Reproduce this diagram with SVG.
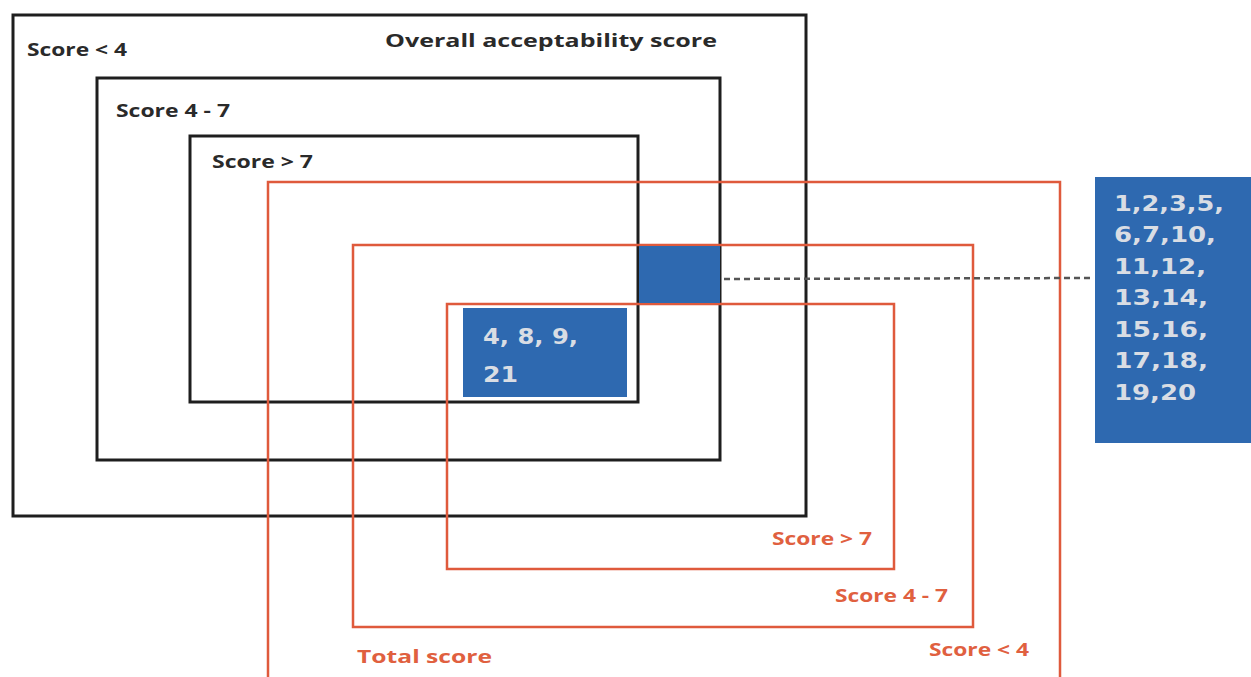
<svg xmlns="http://www.w3.org/2000/svg" width="1251" height="677" viewBox="0 0 1251 677">
  <style>
    .blk { fill: none; stroke: #1e1e1e; stroke-width: 3; }
    .red { fill: none; stroke: #df5a3c; stroke-width: 2.5; }
    .box { fill: #2e69b0; }
    .lbl { font-family: "Open Sans", "Liberation Sans", sans-serif; font-weight: bold; font-size: 18px; }
    .dk { fill: #2a2a2a; }
    .rd { fill: #e0603f; }
    .num { font-family: "DejaVu Sans", Verdana, sans-serif; font-weight: bold; font-size: 21px; fill: #d9dde4; }
    .link { fill: none; stroke: #555; stroke-width: 2.5; stroke-dasharray: 6 4; }
  </style>
  <rect width="1251" height="677" fill="#ffffff"/>

  <!-- overall acceptability score bands -->
  <g id="overall-lt4">
    <rect class="blk" x="13" y="15" width="793" height="501"/>
    <text class="lbl dk" x="27" y="56" textLength="100" lengthAdjust="spacingAndGlyphs">Score &lt; 4</text>
    <text class="lbl dk" x="385" y="47" font-size="19" textLength="332" lengthAdjust="spacingAndGlyphs">Overall acceptability score</text>
  </g>
  <g id="overall-4to7">
    <rect class="blk" x="97" y="78" width="623" height="382"/>
    <text class="lbl dk" x="116" y="117" textLength="114" lengthAdjust="spacingAndGlyphs">Score 4 - 7</text>
  </g>
  <g id="overall-gt7">
    <rect class="blk" x="190" y="136" width="448" height="266"/>
    <text class="lbl dk" x="212" y="168" textLength="101" lengthAdjust="spacingAndGlyphs">Score &gt; 7</text>
  </g>

  <!-- total score bands -->
  <g id="total-lt4">
    <path class="red" d="M268,680 V182 H1060 V680"/>
    <text class="lbl rd" x="357" y="663" textLength="135" lengthAdjust="spacingAndGlyphs">Total score</text>
    <text class="lbl rd" x="929" y="656" textLength="100" lengthAdjust="spacingAndGlyphs">Score &lt; 4</text>
  </g>
  <g id="total-4to7">
    <rect class="red" x="353" y="245" width="620" height="382"/>
    <text class="lbl rd" x="835" y="602" textLength="113" lengthAdjust="spacingAndGlyphs">Score 4 - 7</text>
  </g>
  <g id="total-gt7">
    <rect class="red" x="447" y="304" width="447" height="265"/>
    <text class="lbl rd" x="772" y="545" textLength="100" lengthAdjust="spacingAndGlyphs">Score &gt; 7</text>
  </g>

  <!-- connectors -->
  <g id="connectors">
    <line class="link" x1="704" y1="279" x2="1094" y2="278"/>
  </g>

  <!-- item groups -->
  <g id="agree-items">
    <rect class="box" x="463" y="308" width="164" height="89"/>
    <text class="num" x="483" y="344" font-size="23" textLength="95" lengthAdjust="spacingAndGlyphs">4, 8, 9,</text>
    <text class="num" x="483" y="382" font-size="23" textLength="35" lengthAdjust="spacingAndGlyphs">21</text>
  </g>
  <g id="overlap-cell">
    <rect class="box" x="639" y="246" width="81" height="57"/>
  </g>
  <g id="disagree-items">
    <rect class="box" x="1095" y="177" width="160" height="266"/>
    <text class="num" x="1114" y="211" textLength="110" lengthAdjust="spacingAndGlyphs">1,2,3,5,</text>
    <text class="num" x="1114" y="242" textLength="102" lengthAdjust="spacingAndGlyphs">6,7,10,</text>
    <text class="num" x="1114" y="274" textLength="92" lengthAdjust="spacingAndGlyphs">11,12,</text>
    <text class="num" x="1114" y="305" textLength="94" lengthAdjust="spacingAndGlyphs">13,14,</text>
    <text class="num" x="1114" y="337" textLength="94" lengthAdjust="spacingAndGlyphs">15,16,</text>
    <text class="num" x="1114" y="368" textLength="94" lengthAdjust="spacingAndGlyphs">17,18,</text>
    <text class="num" x="1114" y="400" textLength="82" lengthAdjust="spacingAndGlyphs">19,20</text>
  </g>
</svg>
